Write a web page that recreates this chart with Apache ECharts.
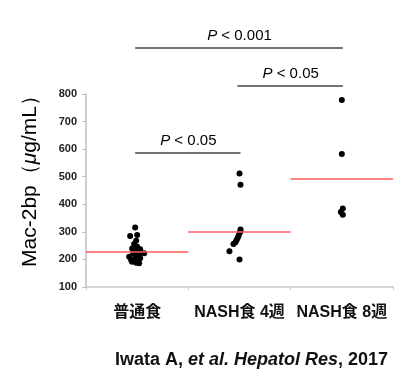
<!DOCTYPE html>
<html><head><meta charset="utf-8">
<script src="https://cdn.jsdelivr.net/npm/echarts@6/dist/echarts.min.js"></script>
<style>html,body{margin:0;padding:0;background:#fff}#c{width:413px;height:388px}</style>
</head><body><div id="c"></div>
<script>
const categories = ['普通食', 'NASH食 4週', 'NASH食 8週'];
// values (μg/mL)
const group1 = [316, 285, 289, 268, 256, 246, 240, 237, 232, 224, 222, 222, 218, 210, 206, 204, 198, 192, 188, 186];
const group1Offset = [-2, -7, 0, -1, -3, 0, -5, 3, -2, -1, 7, -4, 2, -8, -2, 3, -6, -5, -1, 2];
const group2 = [512, 471, 309, 302, 295, 285, 277, 270, 262, 256, 230, 200];
const group2Offset = [0, 1, 1, 1, 0, -1, -2, -3, -4, -6, -10, 0];
const group3 = [778, 582, 385, 372, 362];
const group3Offset = [0, 0, 1, -1, 1];
const means = [228, 300, 494];
const yTicks = {min: 100, max: 800, interval: 100};
const brackets = [
  {from: 0, to: 1, level: 586, label: 'P < 0.05'},
  {from: 1, to: 2, level: 829, label: 'P < 0.05'},
  {from: 0, to: 2, level: 967, label: 'P < 0.001'}
];

const catPx = 102;
function pts(vals, offs, i){ return vals.map((v,k)=>[i + offs[k]/catPx, v]); }
const allPts = pts(group1, group1Offset, 0).concat(pts(group2, group2Offset, 1), pts(group3, group3Offset, 2));

const chart = echarts.init(document.getElementById('c'), null, {renderer:'canvas'});
const font = 'Liberation Sans, Arial, sans-serif';
const cjkFont = 'Liberation Sans, "Noto Sans CJK JP", sans-serif';
chart.setOption({
  animation: false,
  grid: {left: 86, right: 20, top: 94, bottom: 101},
  xAxis: [{
    type: 'category', data: categories, boundaryGap: true,
    axisLine: {lineStyle: {color: '#c8c8c8', width: 1.5}},
    axisTick: {show: true, length: 3, lineStyle: {color: '#c8c8c8'}},
    axisLabel: {color: '#111', fontFamily: cjkFont, fontSize: 16, fontWeight: 'bold', margin: 18, interval: 0}
  }, {
    type: 'value', min: -0.5, max: 2.5, show: false
  }],
  yAxis: {
    type: 'value', min: yTicks.min, max: yTicks.max, interval: yTicks.interval,
    splitLine: {show: false},
    axisLine: {show: true, onZero: false, lineStyle: {color: '#bdbdbd', width: 1.5}},
    axisTick: {show: true, length: 4, lineStyle: {color: '#bdbdbd'}},
    axisLabel: {color: '#222', fontFamily: font, fontSize: 11, fontWeight: 'bold', margin: 9}
  },
  series: [{
    type: 'scatter', xAxisIndex: 1, data: allPts, symbolSize: 6,
    itemStyle: {color: '#000', opacity: 1}, z: 3
  }, {
    type: 'scatter', xAxisIndex: 1, data: [], z: 2,
    markLine: {
      silent: true, symbol: 'none', label: {show: false},
      lineStyle: {color: '#ff5b5b', width: 1.5, type: 'solid'},
      data: means.map((m,i)=>[{coord:[i-0.5, m]},{coord:[i+0.5, m]}])
    }
  }]
});

const g = [];
brackets.forEach(b=>{
  const p1 = chart.convertToPixel({xAxisIndex:1, yAxisIndex:0}, [b.from, b.level]);
  const p2 = chart.convertToPixel({xAxisIndex:1, yAxisIndex:0}, [b.to, b.level]);
  g.push({type:'line', shape:{x1:p1[0]-2, y1:p1[1], x2:p2[0]+1, y2:p2[1]}, style:{stroke:'#444', lineWidth:1.5}});
  const rest = b.label.slice(1);
  g.push({type:'text', x:(p1[0]+p2[0])/2, y:p1[1]-12,
    style:{text:'{i|P}'+rest, align:'center', verticalAlign:'middle', fill:'#000', font:'15px '+font,
      rich:{i:{fontStyle:'italic', fontSize:15, fontFamily:font, fill:'#000'}}}});
});
g.push({type:'text', x:30, y:176, rotation: Math.PI/2,
  style:{text:'Mac-2bp（{i|μ}g/mL）', align:'center', verticalAlign:'middle', fill:'#000',
    font:'21px '+font,
    rich:{i:{fontStyle:'italic', fontSize:21, fontFamily:font, fill:'#000'}}}});
g.push({type:'text', x:388, y:360,
  style:{text:'Iwata A, {i|et al. Hepatol Res}, 2017', align:'right', verticalAlign:'middle', fill:'#111',
    font:'bold 18px '+font,
    rich:{i:{fontStyle:'italic', fontWeight:'bold', fontSize:18, fontFamily:font, fill:'#111'}}}});
chart.setOption({graphic: g});
</script>
</body></html>
